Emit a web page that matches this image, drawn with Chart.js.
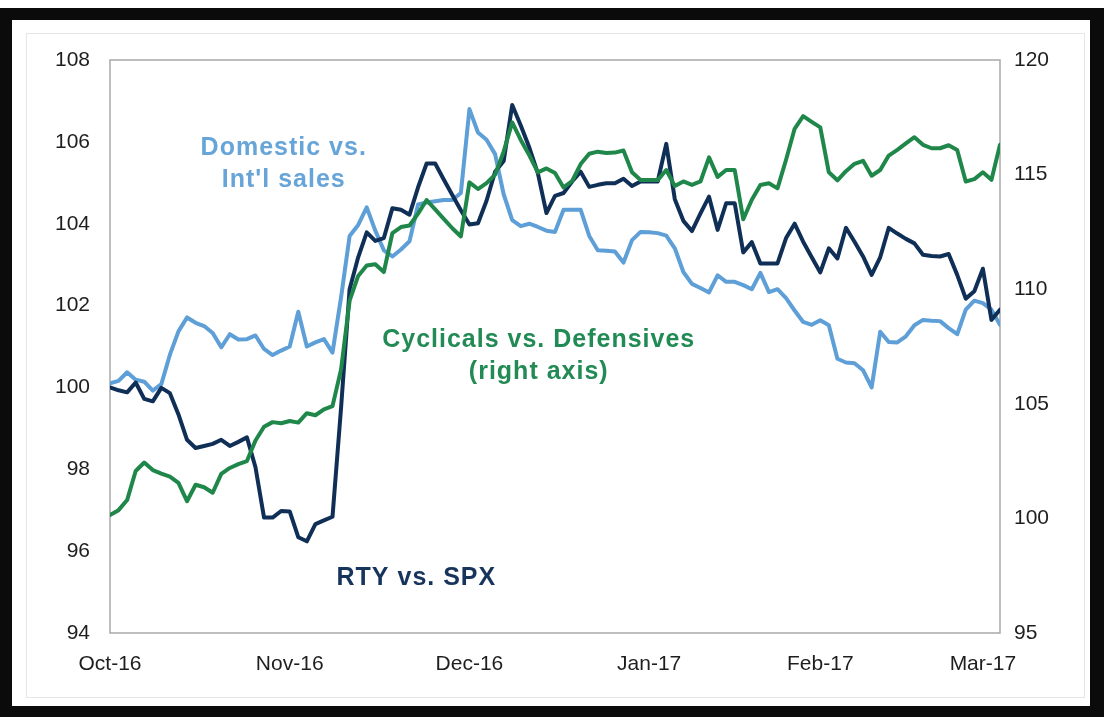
<!DOCTYPE html>
<html>
<head>
<meta charset="utf-8">
<script src="https://cdn.jsdelivr.net/npm/chart.js@4/dist/chart.umd.min.js"></script>
<style>
  html, body { margin: 0; padding: 0; background: #ffffff; }
  #wrap { width: 1104px; height: 717px; position: relative; }
  canvas { display: block; }
</style>
</head>
<body>
<div id="wrap"><canvas id="chart" width="1104" height="717"></canvas></div>
<script>
// Trading-day index positions of the month labels (Oct 3, 2016 = day 0)
const monthTickIndex = [0, 21, 42, 63, 83, 102];
const monthTickLabels = ['Oct-16', 'Nov-16', 'Dec-16', 'Jan-17', 'Feb-17', 'Mar-17'];

// Left axis: relative performance, rebased to 100
const rtyVsSpx = [
  100.0, 99.93, 99.88, 100.12, 99.72, 99.66, 99.99, 99.86, 99.34, 98.72,
  98.52, 98.57, 98.62, 98.72, 98.57, 98.67, 98.78, 98.05, 96.82, 96.82,
  96.98, 96.97, 96.34, 96.24, 96.66, 96.75, 96.84, 99.5, 102.4, 103.18,
  103.79, 103.58, 103.65, 104.38, 104.34, 104.22, 104.89, 105.47, 105.47, 105.08,
  104.7, 104.33, 103.98, 104.01, 104.56, 105.27, 105.53, 106.9, 106.4, 105.86,
  105.23, 104.26, 104.68, 104.75, 105.03, 105.27, 104.9, 104.95, 104.99, 104.99,
  105.1, 104.92, 105.03, 105.03, 105.03, 105.95, 104.6, 104.07, 103.82, 104.25,
  104.66, 103.85, 104.5, 104.5, 103.3, 103.55, 103.03, 103.03, 103.03, 103.65,
  104.0, 103.56, 103.18, 102.81, 103.4, 103.15, 103.9, 103.56, 103.2, 102.75,
  103.18, 103.9, 103.76, 103.63, 103.52, 103.24, 103.21, 103.2, 103.26, 102.75,
  102.17, 102.35, 102.9, 101.65, 101.9
];
const domesticVsIntl = [
  100.1, 100.16, 100.37, 100.19, 100.14, 99.92, 100.08, 100.8, 101.37, 101.71,
  101.58, 101.5, 101.33, 100.98, 101.3, 101.17, 101.18, 101.27, 100.94, 100.79,
  100.9, 101.0, 101.85, 101.0, 101.1, 101.18, 100.85, 102.2, 103.7, 103.97,
  104.4, 103.83, 103.35, 103.2, 103.37, 103.57, 104.47, 104.52, 104.55, 104.58,
  104.58, 104.75, 106.8, 106.23, 106.05, 105.7, 104.72, 104.09, 103.94, 104.0,
  103.92, 103.83, 103.8, 104.34, 104.34, 104.34, 103.7, 103.35, 103.34, 103.32,
  103.05, 103.6, 103.8, 103.79, 103.77, 103.71, 103.4, 102.82, 102.53, 102.43,
  102.32, 102.74, 102.58, 102.58, 102.5, 102.4, 102.8, 102.33, 102.4, 102.18,
  101.88, 101.6, 101.53, 101.64, 101.52, 100.7, 100.61, 100.59, 100.42, 100.0,
  101.36, 101.11, 101.1, 101.25, 101.52, 101.65, 101.63, 101.62, 101.45, 101.3,
  101.9, 102.12, 102.06, 101.9, 101.53
];
// Right axis
const cyclicalsVsDefensives = [
  100.15, 100.36, 100.8, 102.07, 102.44, 102.11, 101.95, 101.82, 101.55, 100.75,
  101.47, 101.36, 101.12, 101.94, 102.2, 102.37, 102.5, 103.4, 104.0, 104.2,
  104.15, 104.25, 104.18, 104.59, 104.5, 104.76, 104.9, 106.5, 109.5, 110.58,
  111.03, 111.09, 110.75, 112.45, 112.71, 112.78, 113.3, 113.89, 113.48, 113.07,
  112.66, 112.3, 114.66, 114.37, 114.63, 115.0, 116.0, 117.28, 116.51, 115.84,
  115.1, 115.27, 115.07, 114.44, 114.72, 115.46, 115.91, 116.0, 115.94, 115.96,
  116.05, 115.1, 114.76, 114.76, 114.76, 115.2, 114.5, 114.7, 114.55, 114.7,
  115.75, 114.9, 115.2, 115.2, 113.05, 113.9, 114.55, 114.62, 114.4, 115.65,
  117.0, 117.55, 117.3, 117.06, 115.1, 114.75, 115.15, 115.47, 115.6, 114.95,
  115.2, 115.83, 116.08, 116.36, 116.63, 116.3, 116.15, 116.15, 116.28, 116.07,
  114.7, 114.8, 115.1, 114.77, 116.3
];

const leftRange = { min: 94, max: 108, step: 2 };
const rightRange = { min: 95, max: 120, step: 5 };

const COLORS = {
  rty: '#102f57',
  domestic: '#5d9fd6',
  cyclicals: '#1f8749'
};

// In-chart series captions, anchored in data space (x = trading day, y = left axis)
const seriesCaptions = [
  { lines: ['Domestic vs.', "Int'l sales"], x: 20.3, y: 105.85, color: '#67a5d9' },
  { lines: ['Cyclicals vs. Defensives', '(right axis)'], x: 50.1, y: 101.16, color: '#228a55' },
  { lines: ['RTY vs. SPX'], x: 35.8, y: 95.34, color: '#17345c' }
];

const toPoints = arr => arr.map((v, i) => ({ x: i, y: v }));

const framePlugin = {
  id: 'frame',
  beforeDraw(chart) {
    const { ctx, width, height, chartArea: a } = chart;
    ctx.save();
    ctx.fillStyle = '#ffffff';
    ctx.fillRect(0, 0, width, height);
    // faint outer chart-area outline
    ctx.strokeStyle = '#e6e6e6';
    ctx.lineWidth = 1;
    ctx.strokeRect(26.5, 33.5, 1058, 664);
    // heavy black picture frame
    ctx.fillStyle = '#0b0b0b';
    ctx.fillRect(0, 8, width, 12);
    ctx.fillRect(0, 8, 12, height - 8);
    ctx.fillRect(width - 14, 8, 14, height - 8);
    ctx.fillRect(0, height - 11, width, 11);
    ctx.restore();
  },
  beforeDatasetsDraw(chart) {
    const { ctx, chartArea: a } = chart;
    ctx.save();
    ctx.strokeStyle = '#a9a9a9';
    ctx.lineWidth = 1.5;
    ctx.strokeRect(a.left, a.top, a.right - a.left, a.bottom - a.top);
    ctx.restore();
  },
  afterDatasetsDraw(chart) {
    const { ctx, scales } = chart;
    ctx.save();
    ctx.font = 'bold 25px "Liberation Sans", Arial, sans-serif';
    ctx.textAlign = 'center';
    ctx.textBaseline = 'middle';
    if ('letterSpacing' in ctx) ctx.letterSpacing = '1px';
    seriesCaptions.forEach(c => {
      const px = scales.x.getPixelForValue(c.x);
      const py = scales.y.getPixelForValue(c.y);
      ctx.fillStyle = c.color;
      c.lines.forEach((t, k) => ctx.fillText(t, px, py + k * 32));
    });
    ctx.restore();
  }
};

const tickFont = { family: '"Liberation Sans", Arial, sans-serif', size: 21 };

new Chart(document.getElementById('chart'), {
  type: 'line',
  data: {
    datasets: [
      {
        label: "Domestic vs. Int'l sales",
        data: toPoints(domesticVsIntl),
        yAxisID: 'y',
        borderColor: COLORS.domestic,
        order: 3
      },
      {
        label: 'RTY vs. SPX',
        data: toPoints(rtyVsSpx),
        yAxisID: 'y',
        borderColor: COLORS.rty,
        order: 2
      },
      {
        label: 'Cyclicals vs. Defensives (right axis)',
        data: toPoints(cyclicalsVsDefensives),
        yAxisID: 'y2',
        borderColor: COLORS.cyclicals,
        order: 1
      }
    ]
  },
  options: {
    responsive: false,
    animation: false,
    events: [],
    layout: { padding: { top: 60, left: 0, right: 0, bottom: 0 } },
    elements: {
      line: { borderWidth: 4, tension: 0, borderJoinStyle: 'round', borderCapStyle: 'round', fill: false },
      point: { radius: 0 }
    },
    plugins: { legend: { display: false }, tooltip: { enabled: false } },
    scales: {
      x: {
        type: 'linear',
        min: 0,
        max: rtyVsSpx.length - 1,
        grid: { display: false, drawTicks: false },
        border: { display: false },
        afterBuildTicks: s => { s.ticks = monthTickIndex.map(v => ({ value: v })); },
        afterFit: s => { s.height = 84; },
        ticks: {
          autoSkip: false,
          maxRotation: 0,
          padding: 19,
          color: '#1e1e1e',
          font: tickFont,
          callback: v => monthTickLabels[monthTickIndex.indexOf(v)] ?? ''
        }
      },
      y: {
        position: 'left',
        min: leftRange.min,
        max: leftRange.max,
        grid: { display: false, drawTicks: false },
        border: { display: false },
        afterFit: s => { s.width = 110; },
        ticks: { stepSize: leftRange.step, padding: 20, color: '#1e1e1e', font: tickFont }
      },
      y2: {
        position: 'right',
        min: rightRange.min,
        max: rightRange.max,
        grid: { display: false, drawTicks: false },
        border: { display: false },
        afterFit: s => { s.width = 104; },
        ticks: { stepSize: rightRange.step, padding: 14, color: '#1e1e1e', font: tickFont }
      }
    }
  },
  plugins: [framePlugin]
});
</script>
</body>
</html>
